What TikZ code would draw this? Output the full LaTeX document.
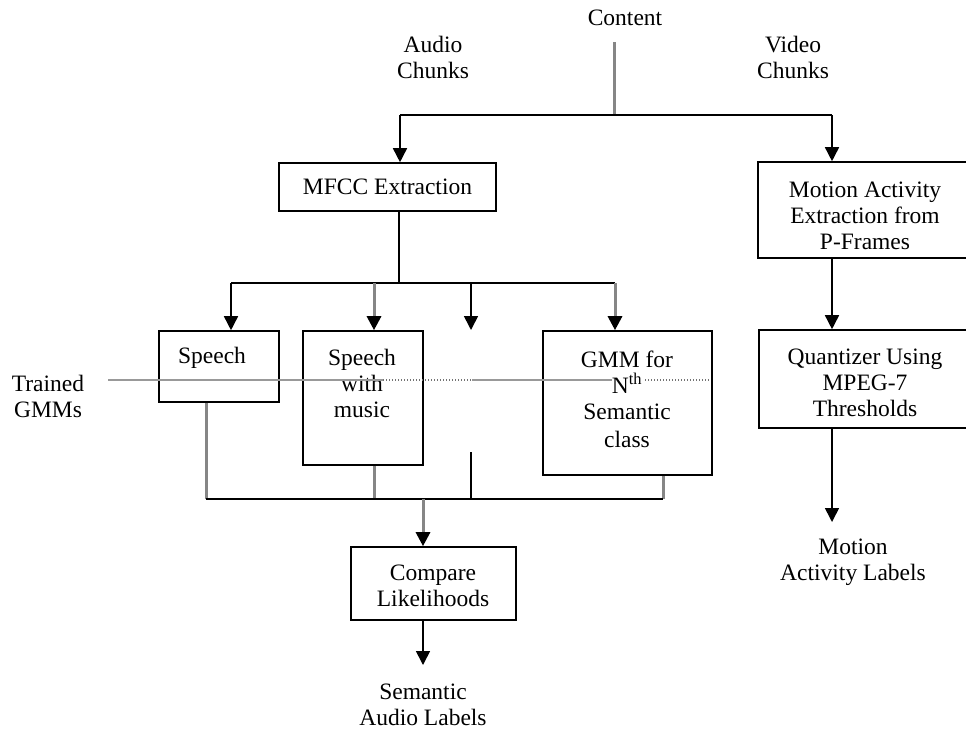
\documentclass[tikz,border=0pt]{standalone}
\usepackage{fontspec}
\setmainfont{Liberation Serif}
\usetikzlibrary{arrows.meta}
\begin{document}
\begin{tikzpicture}[x=1pt,y=-1pt,
  box/.style={draw, line width=1.6pt, rectangle, inner sep=0pt},
  lbl/.style={align=center, inner sep=0pt, font=\fontsize{23.5}{26}\selectfont},
  blk/.style={line width=1.6pt, draw=black},
  gry/.style={line width=3pt, draw=gray!95},
  arr/.style={-{Triangle[length=14pt,width=14pt,color=black]}},
  fine/.style={line width=1.2pt, draw=black!40},
  fined/.style={line width=1.2pt, draw=black!55, dash pattern=on 1.2pt off 1.8pt}]
\useasboundingbox (0,0) rectangle (966,729);
\clip (0,0) rectangle (966,729);
% text labels
\node[lbl] (content) at (625,18) {Content};
\node[lbl] (audioc) at (433,57) {Audio\\Chunks};
\node[lbl] (videoc) at (793,57) {Video\\Chunks};
\node[lbl] (trained) at (48,396) {Trained\\GMMs};
\node[lbl] (semlab) at (423,705) {Semantic\\Audio Labels};
\node[lbl] (motlab) at (853,562) {Motion\\Activity Labels};
% boxes
\node[box, minimum width=217, minimum height=48] (mfcc) at (387.5,187) {};
\node[lbl] at (mfcc) {MFCC Extraction};
\node[box, minimum width=214, minimum height=96] (motion) at (865,210) {};
\node[lbl] at (865,216) {Motion Activity\\Extraction from\\P-Frames};
\node[box, minimum width=213, minimum height=98] (quant) at (865.5,379) {};
\node[lbl] at (865,383) {Quantizer Using\\MPEG-7\\Thresholds};
\node[box, minimum width=120, minimum height=71] (speech) at (219,366.5) {};
\node[lbl] at (212,358) {Speech};
\node[box, minimum width=120, minimum height=134] (swm) at (363,398) {};
\node[lbl] at (362,383) {Speech\\with\\music};
\node[box, minimum width=169, minimum height=144] (gmm) at (627.5,403) {};
\node[lbl] at (627,399) {GMM for\\N\textsuperscript{th}\\Semantic\\[2pt]class};
\node[box, minimum width=165, minimum height=73] (compare) at (433.5,583.5) {};
\node[lbl] at (433,586) {Compare\\Likelihoods};
% Trained GMMs line
\draw[fine] (108,380) -- (383,380);
\draw[fined] (383,380) -- (472,380);
\draw[fine] (472,380) -- (612,380);
\draw[fined] (645,380) -- (710,380);
% coordinates
\coordinate (ctop) at (614,42);
\coordinate (csplit) at (614,115);
\coordinate (ja) at (400,115);
\coordinate (jv) at (832,115);
\coordinate (jm) at (399,283);
\coordinate (b1) at (231,283);
\coordinate (b2) at (374,283);
\coordinate (b3) at (471,283);
\coordinate (b4) at (615,283);
\coordinate (b3end) at (471,330);
\coordinate (c1) at (206,499);
\coordinate (c2) at (374,499);
\coordinate (c3) at (471,499);
\coordinate (c3top) at (471,452);
\coordinate (c4) at (663,499);
\coordinate (cm) at (423,499);
\coordinate (semend) at (423,665);
\coordinate (motend) at (832,522);
% top connectors
\draw[gry] (ctop) -- (csplit);
\draw[blk] (ja) -- (jv);
\draw[blk,arr] (ja) -- (ja |- mfcc.north);
\draw[blk,arr] (jv) -- (jv |- motion.north);
\draw[blk,arr] (jv |- motion.south) -- (jv |- quant.north);
\draw[blk,arr] (jv |- quant.south) -- (motend);
% MFCC fan-out
\draw[blk] (jm |- mfcc.south) -- (jm);
\draw[blk] (b1) -- (b4);
\draw[blk,arr] (b1) -- (b1 |- speech.north);
\draw[gry,arr] (b2) -- (b2 |- swm.north);
\draw[blk,arr] (b3) -- (b3end);
\draw[gry,arr] (b4) -- (b4 |- gmm.north);
% fan-in
\draw[gry] (c1 |- speech.south) -- (c1);
\draw[gry] (c2 |- swm.south) -- (c2);
\draw[blk] (c3top) -- (c3);
\draw[gry] (c4 |- gmm.south) -- (c4);
\draw[blk] (c1) -- (c4);
\draw[gry,arr] (cm) -- (cm |- compare.north);
\draw[blk,arr] (cm |- compare.south) -- (semend);
\end{tikzpicture}
\end{document}
